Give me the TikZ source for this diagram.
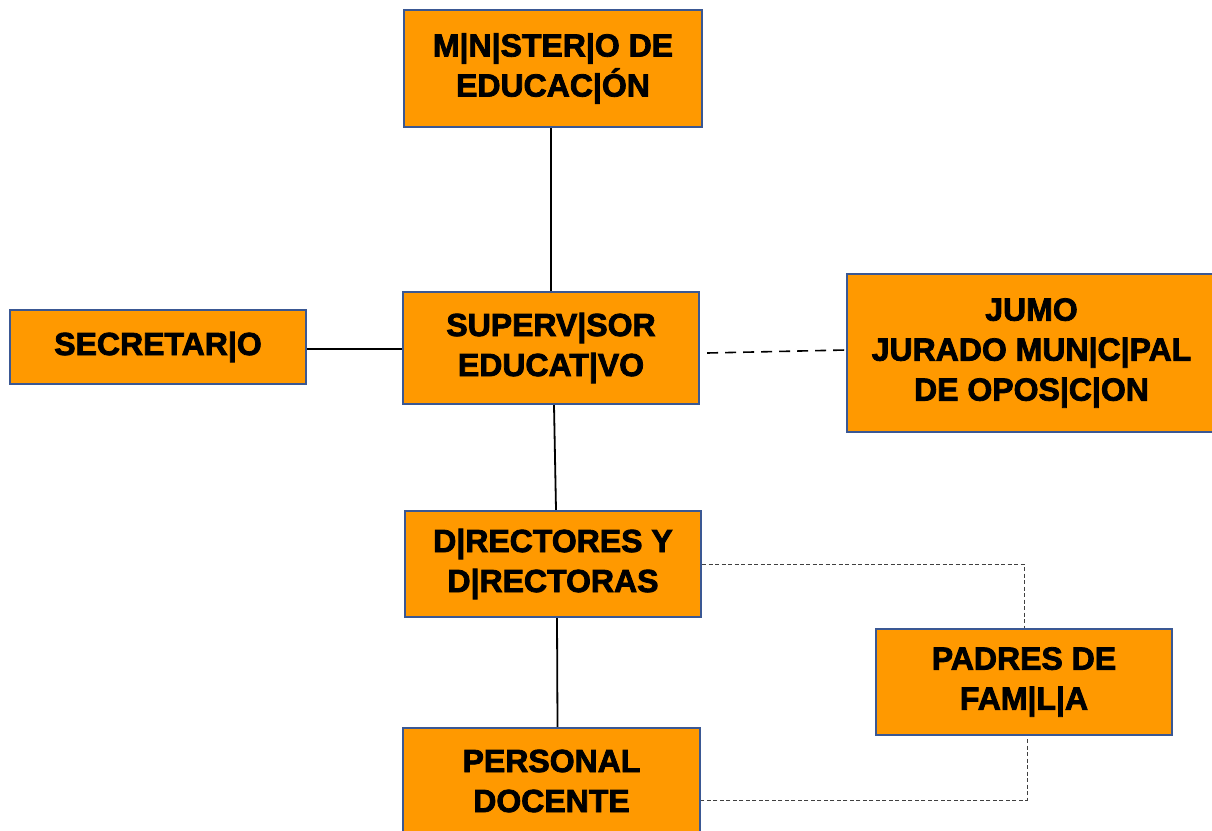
\documentclass[tikz,border=0pt]{standalone}
\usepackage{fontspec}
\setmainfont{Liberation Sans}
\newfontfamily\heavyfont{Liberation Sans}[UprightFont={* Bold}, UprightFeatures={FakeBold=2.5}]
\begin{document}
\begin{tikzpicture}[x=1pt,y=-1pt,
  orgbox/.style={draw=boxblue, line width=2.4pt, fill=boxorange, inner sep=0pt,
    align=center, text=black, font=\fontsize{32}{40}\selectfont\heavyfont},
  solidlink/.style={line width=1.8pt, black},
  dashlink/.style={line width=1.6pt, black, dash pattern=on 11pt off 7pt},
  dotlink/.style={line width=1pt, black!75, dash pattern=on 4pt off 2.5pt}]
\definecolor{boxorange}{HTML}{FF9900}
\definecolor{boxblue}{HTML}{3A5894}
\useasboundingbox (0,0) rectangle (1212,830);
\clip (0,0) rectangle (1212,830);
\node[orgbox, minimum width=298pt, minimum height=117pt] (min) at (553,68.5) {M|N|STER|O DE\\EDUCAC|ÓN};
\node[orgbox, minimum width=296pt, minimum height=74pt] (sec) at (158,347) {SECRETAR|O};
\node[orgbox, minimum width=296pt, minimum height=112pt] (sup) at (551,348) {SUPERV|SOR\\EDUCAT|VO};
\node[orgbox, minimum width=369pt, minimum height=158pt] (jumo) at (1031.5,353) {JUMO\\JURADO MUN|C|PAL\\DE OPOS|C|ON};
\node[orgbox, minimum width=296pt, minimum height=106pt] (dir) at (553,564) {D|RECTORES Y\\D|RECTORAS};
\node[orgbox, minimum width=296pt, minimum height=106pt] (pad) at (1024,682) {PADRES DE\\FAM|L|A};
\node[orgbox, minimum width=297pt, minimum height=106pt] (per) at (551.5,781) {PERSONAL\\DOCENTE};
\coordinate (c1) at (1024,564);
\coordinate (c2) at (1027,800);
\draw[solidlink] ([xshift=-2pt]min.south) -- (sup.north);
\draw[solidlink] ([xshift=3pt]sup.south) -- ([xshift=3pt]dir.north);
\draw[solidlink] ([xshift=4pt]dir.south) -- ([xshift=6pt]per.north);
\draw[solidlink] ([yshift=-2pt]sec.east) -- ([yshift=-1pt]sup.west);
\draw[dashlink] ([xshift=7pt,yshift=-5pt]sup.east) -- ([yshift=3pt]jumo.west);
\draw[dotlink] (dir.east) -- (c1) -- (pad.north);
\draw[dotlink] ([xshift=3pt,yshift=-3pt]pad.south) -- (c2) -- ([yshift=-19pt]per.east);
\end{tikzpicture}
\end{document}
